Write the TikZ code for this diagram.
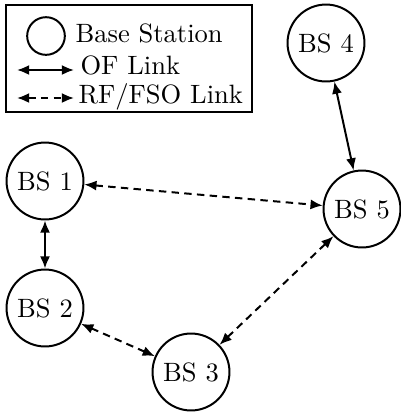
\documentclass[tikz,border=0pt]{standalone}
\usepackage{tikz}
\usetikzlibrary{arrows.meta}

\tikzset{
    bs/.style={draw, circle, line width=0.75pt, minimum size=29pt, inner sep=0pt},
    oflink/.style={{Latex[length=4.6pt,width=3.8pt]}-{Latex[length=4.6pt,width=3.8pt]}, line width=0.75pt},
    fsolink/.style={oflink, dash pattern=on 2.8pt off 2pt}
}

\begin{document}
\begin{tikzpicture}[x=0.377pt, y=-0.377pt]
    \useasboundingbox(0,0)rectangle(401,418);

    \draw[line width=0.75pt](6,5)rectangle(252,112);
    \node[bs, minimum size=14.2pt](lgbs) at (46,36){};
    \node[anchor=base west, inner sep=0pt](lgbstext) at (75,42){Base Station};
    \coordinate(ofa) at (17,70);
    \coordinate(ofb) at (74,70);
    \draw[oflink](ofa)--(ofb);
    \node[anchor=base west, inner sep=0pt](oftext) at (80,74){OF Link};
    \coordinate(fsoa) at (17,98);
    \coordinate(fsob) at (74,98);
    \draw[fsolink](fsoa)--(fsob);
    \node[anchor=base west, inner sep=0pt](fsotext) at (78,103){RF/FSO Link};

    \node[bs](bs1) at (45,181){BS 1};
    \node[bs](bs2) at (45,308){BS 2};
    \node[bs](bs3) at (191,372){BS 3};
    \node[bs](bs4) at (326,43){BS 4};
    \node[bs](bs5) at (362,209){BS 5};

    \draw[oflink](bs1)--(bs2);
    \draw[oflink](bs4)--(bs5);
    \draw[fsolink](bs1)--(bs5);
    \draw[fsolink](bs2)--(bs3);
    \draw[fsolink](bs3)--(bs5);
\end{tikzpicture}
\end{document}
